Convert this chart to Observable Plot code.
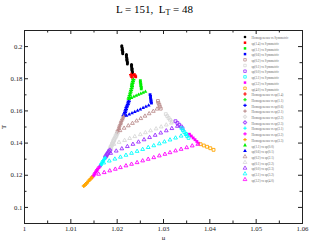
<!DOCTYPE html>
<html><head><meta charset="utf-8">
<script src="https://cdn.jsdelivr.net/npm/d3@7"></script>
<script src="https://cdn.jsdelivr.net/npm/@observablehq/plot@0.6"></script>
<style>
body{margin:0;background:#fff;}
#wrap{position:relative;width:309px;height:240px;}
#title{position:absolute;top:4px;left:0;width:309px;text-align:center;font-family:"Liberation Serif";font-size:11px;line-height:11px;white-space:pre;}
#title sub{font-size:8px;vertical-align:-2px;line-height:0;}
svg{display:block;}
</style></head><body>
<div id="wrap"><div id="title">L = 151,  L<sub>T</sub> = 48</div></div>
<script>
// ---- tick values ----
const xMajor = [1, 1.01, 1.02, 1.03, 1.04, 1.05, 1.06];
const xMinor = [1.005, 1.015, 1.025, 1.035, 1.045, 1.055];
const yMajor = [0.1, 0.12, 0.14, 0.16, 0.18, 0.2];
const yMinor = [0.11, 0.13, 0.15, 0.17, 0.19];

// ---- series data: [mu, T] ----
const homSym = [[1.0210,0.2005],[1.0210,0.1998],[1.0211,0.1991],[1.0211,0.1984],[1.0211,0.1977],[1.0212,0.1970],[1.0212,0.1963],[1.0212,0.1956],
  [1.0220,0.1951],[1.0220,0.1944],[1.0220,0.1936],[1.0221,0.1929],[1.0221,0.1921],[1.0221,0.1914],[1.0222,0.1906],[1.0222,0.1899],[1.0222,0.1891],
  [1.0231,0.1889],[1.0231,0.1882],[1.0231,0.1874],[1.0232,0.1866],[1.0232,0.1859],[1.0232,0.1851],[1.0233,0.1843],[1.0233,0.1836]];
const sp14Sym = [[1.0237,0.1826],[1.0239,0.1818],[1.0240,0.1812]];
const sp11Sym = [[1.0250,0.1788],[1.0250,0.1778],[1.0251,0.1768],[1.0251,0.1757],[1.0252,0.1747],[1.0252,0.1737]];
const sp06Sym = [[1.0271,0.1701],[1.0272,0.1690],[1.0272,0.1679],[1.0273,0.1668],[1.0273,0.1658],[1.0274,0.1649]];
const sp02Sym = [[1.0288,0.1662],[1.0289,0.1650],[1.0291,0.1638],[1.0292,0.1626],[1.0294,0.1614]];
const sp01Sym = [[1.0305,0.1580],[1.0308,0.1568],[1.0311,0.1556],[1.0314,0.1545],[1.0318,0.1534]];
const sp00Sym = [[1.0326,0.1536],[1.0330,0.1525],[1.0334,0.1514],[1.0338,0.1503],[1.0341,0.1492]];
const sp31Sym = [[1.0339,0.1492],[1.0342,0.1480],[1.0345,0.1468],[1.0348,0.1456],[1.0351,0.1444],[1.0354,0.1432]];
const sp32Sym = [[1.0356,0.1455],[1.0360,0.1444],[1.0364,0.1432],[1.0368,0.1421],[1.0372,0.1410],[1.0376,0.1399]];
const sp40Sym = [[1.0380,0.1393],[1.0387,0.1385],[1.0394,0.1377],[1.0401,0.1368],[1.0408,0.1358]];
const hom14 = [[1.0230,0.1826],[1.0231,0.1818],[1.0232,0.1810]];
const hom11 = [[1.0235,0.1794],[1.0234,0.1783],[1.0233,0.1772],[1.0232,0.1761],[1.0232,0.1750],[1.0231,0.1739],[1.0230,0.1728],[1.0229,0.1717],[1.0228,0.1706],[1.0227,0.1695],[1.0226,0.1684],[1.0225,0.1674]];
const hom06 = [[1.0225,0.1660],[1.0224,0.1650],[1.0223,0.1640],[1.0221,0.1630],[1.0220,0.1620],[1.0219,0.1610],[1.0218,0.1600],[1.0217,0.1590],[1.0215,0.1580],[1.0214,0.1570]];
const hom21 = [[1.0214,0.1565],[1.0212,0.1555],[1.0211,0.1545],[1.0209,0.1535],[1.0208,0.1525],[1.0207,0.1515],[1.0205,0.1505],[1.0204,0.1495],[1.0203,0.1485],[1.0201,0.1475],[1.0200,0.1465]];
const hom22 = [[1.0200,0.1460],[1.0198,0.1450],[1.0197,0.1440],[1.0195,0.1430],[1.0193,0.1420],[1.0192,0.1410],[1.0190,0.1400],[1.0189,0.1390],[1.0187,0.1380],[1.0186,0.1370],[1.0185,0.1362]];
const hom23 = [[1.0184,0.1355],[1.0182,0.1346],[1.0180,0.1337],[1.0178,0.1329],[1.0176,0.1320],[1.0175,0.1313]];
const hom31 = [[1.0174,0.1308],[1.0172,0.1299],[1.0170,0.1290],[1.0168,0.1281],[1.0166,0.1272],[1.0165,0.1264],[1.0163,0.1257]];
const hom32 = [[1.0162,0.1252],[1.0159,0.1243],[1.0157,0.1234],[1.0155,0.1225],[1.0153,0.1216],[1.0151,0.1207],[1.0149,0.1198],[1.0147,0.1191]];
const hom33 = [[1.0145,0.1186],[1.0143,0.1178],[1.0140,0.1170],[1.0138,0.1162],[1.0135,0.1154],[1.0133,0.1146],[1.0130,0.1139],[1.0128,0.1133]];
const sp11sp00 = [[1.0226,0.1674],[1.0231,0.1681],[1.0236,0.1688],[1.0241,0.1695],[1.0246,0.1701],[1.0251,0.1707],[1.0256,0.1714],[1.0261,0.1720]];
const sp06sp01 = [[1.0220,0.1570],[1.0226,0.1578],[1.0232,0.1586],[1.0238,0.1594],[1.0244,0.1602],[1.0250,0.1610],[1.0256,0.1618],[1.0262,0.1626],[1.0268,0.1634]];
const sp02sp21 = [[1.0206,0.1478],[1.0215,0.1493],[1.0224,0.1508],[1.0233,0.1523],[1.0242,0.1538],[1.0251,0.1553],[1.0260,0.1568],[1.0269,0.1583],[1.0278,0.1598],[1.0286,0.1612]];
const sp01sp22 = [[1.0193,0.1393],[1.0204,0.1405],[1.0216,0.1417],[1.0227,0.1429],[1.0238,0.1441],[1.0250,0.1453],[1.0261,0.1465],[1.0272,0.1477],[1.0284,0.1489],[1.0295,0.1501],[1.0306,0.1513],[1.0317,0.1525]];
const sp00sp23 = [[1.0186,0.1337],[1.0198,0.1351],[1.0210,0.1365],[1.0222,0.1379],[1.0234,0.1393],[1.0246,0.1407],[1.0258,0.1421],[1.0270,0.1435],[1.0282,0.1449],[1.0294,0.1463],[1.0306,0.1477],[1.0318,0.1491],[1.0330,0.1505]];
const sp31sp32 = [[1.0171,0.1277],[1.0183,0.1289],[1.0195,0.1301],[1.0207,0.1313],[1.0219,0.1325],[1.0231,0.1337],[1.0243,0.1349],[1.0255,0.1361],[1.0267,0.1373],[1.0279,0.1384],[1.0291,0.1396],[1.0302,0.1408],[1.0314,0.1420],[1.0326,0.1432],[1.0338,0.1444],[1.0350,0.1455]];
const sp32sp40 = [[1.0160,0.1207],[1.0172,0.1217],[1.0184,0.1228],[1.0196,0.1238],[1.0207,0.1248],[1.0219,0.1259],[1.0231,0.1269],[1.0243,0.1279],[1.0255,0.1290],[1.0267,0.1300],[1.0279,0.1310],[1.0291,0.1321],[1.0303,0.1331],[1.0314,0.1341],[1.0326,0.1352],[1.0338,0.1362],[1.0350,0.1372],[1.0362,0.1383],[1.0374,0.1393]];

const labels = ["Homogeneous vs Symmetric","sp(1.4) vs Symmetric","sp(1.1) vs Symmetric","sp(0.6) vs Symmetric","sp(0.2) vs Symmetric","sp(0.1) vs Symmetric","sp(0.0) vs Symmetric","sp(3.1) vs Symmetric","sp(3.2) vs Symmetric","sp(4.0) vs Symmetric",
  "Homogeneous vs sp(1.4)","Homogeneous vs sp(1.1)","Homogeneous vs sp(0.6)","Homogeneous vs sp(2.1)","Homogeneous vs sp(2.2)","Homogeneous vs sp(2.3)","Homogeneous vs sp(3.1)","Homogeneous vs sp(3.2)","Homogeneous vs sp(3.3)",
  "sp(1.1) vs sp(0.0)","sp(0.6) vs sp(0.1)","sp(0.2) vs sp(2.1)","sp(0.1) vs sp(2.2)","sp(0.0) vs sp(2.3)","sp(3.1) vs sp(3.2)","sp(3.2) vs sp(4.0)"];
const seriesData = [homSym,sp14Sym,sp11Sym,sp06Sym,sp02Sym,sp01Sym,sp00Sym,sp31Sym,sp32Sym,sp40Sym,
  hom14,hom11,hom06,hom21,hom22,hom23,hom31,hom32,hom33,
  sp11sp00,sp06sp01,sp02sp21,sp01sp22,sp00sp23,sp31sp32,sp32sp40];

// ---- styles ----
const C = {blk:"#000",red:"#ff0000",grn:"#00ee00",blu:"#0000ff",ros:"#bc8f8f",gry:"#d8d8d8",pur:"#9b30ff",cya:"#00ffff",mag:"#ff00ff",ora:"#ffa500"};
const styles = [
  ["circle",C.blk,false],["square",C.red,false],["square",C.grn,false],["square",C.blu,false],["square",C.ros,true],["square",C.gry,true],["square",C.pur,true],["square",C.cya,true],["square",C.mag,false],["square",C.ora,true],
  ["cross",C.red,false],["cross",C.grn,false],["cross",C.blu,false],["cross",C.ros,false],["cross",C.gry,true],["cross",C.pur,true],["cross",C.cya,false],["cross",C.mag,false],["cross",C.ora,false],
  ["triangle",C.grn,false],["triangle",C.blu,false],["triangle",C.ros,true],["triangle",C.gry,true],["triangle",C.pur,true],["triangle",C.cya,true],["triangle",C.mag,true]
];

const W=309,H=240,mt=30,mb=17,ml=24,mr=7;
const fw=W-ml-mr, fh=H-mt-mb;
const tk="#222";

const marks = [
  Plot.frame({stroke:tk}),
  Plot.tickX(xMajor,{x:d=>d, insetTop:fh-4, stroke:tk}),
  Plot.tickX(xMajor,{x:d=>d, insetBottom:fh-4, stroke:tk}),
  Plot.tickX(xMinor,{x:d=>d, insetTop:fh-2.5, stroke:tk}),
  Plot.tickX(xMinor,{x:d=>d, insetBottom:fh-2.5, stroke:tk}),
  Plot.tickY(yMajor,{y:d=>d, insetRight:fw-4, stroke:tk}),
  Plot.tickY(yMajor,{y:d=>d, insetLeft:fw-4, stroke:tk}),
  Plot.tickY(yMinor,{y:d=>d, insetRight:fw-2.5, stroke:tk}),
  Plot.tickY(yMinor,{y:d=>d, insetLeft:fw-2.5, stroke:tk}),
  Plot.axisX({ticks:xMajor, tickSize:0, tickPadding:3, tickFormat:d=>String(d), label:"μ", labelAnchor:"center", labelArrow:"none", labelOffset:16}),
  Plot.axisY({ticks:yMajor, tickSize:0, tickPadding:2, tickFormat:d=>String(d), label:"T", labelAnchor:"center", labelArrow:"none", labelOffset:23})
];
seriesData.forEach((data,i)=>{
  const [sym,col,open]=styles[i];
  const r = sym==="circle"?1.5:(sym==="square"?1.6:(sym==="triangle"?1.4:1.7));
  marks.push(Plot.dot(data,{x:d=>d[0], y:d=>d[1], symbol:sym, r, fill:open?"none":col, stroke:open?col:"none", strokeWidth:0.9}));
});
// legend
labels.forEach((lab,i)=>{
  const [sym,col,open]=styles[i];
  const dy = 6.5 + i*5.7;
  marks.push(Plot.dot([lab],{frameAnchor:"top-right", dx:-57.5, dy, symbol:sym, r:sym==="circle"?1.3:1.4, fill:open?"none":col, stroke:open?col:"none", strokeWidth:0.8}));
  marks.push(Plot.text([lab],{text:d=>d, frameAnchor:"top-right", dx:-51, dy, textAnchor:"start", fontSize:3.2, fill:"#666"}));
});

const chart = Plot.plot({
  width:W, height:H, marginTop:mt, marginBottom:mb, marginLeft:ml, marginRight:mr,
  x:{domain:[1,1.06]},
  y:{domain:[0.09,0.21]},
  style:{fontFamily:"Liberation Serif", fontSize:"6.8px", background:"white", color:"#222", overflow:"visible"},
  marks
});
document.getElementById("wrap").prepend(chart);
</script>
</body></html>
